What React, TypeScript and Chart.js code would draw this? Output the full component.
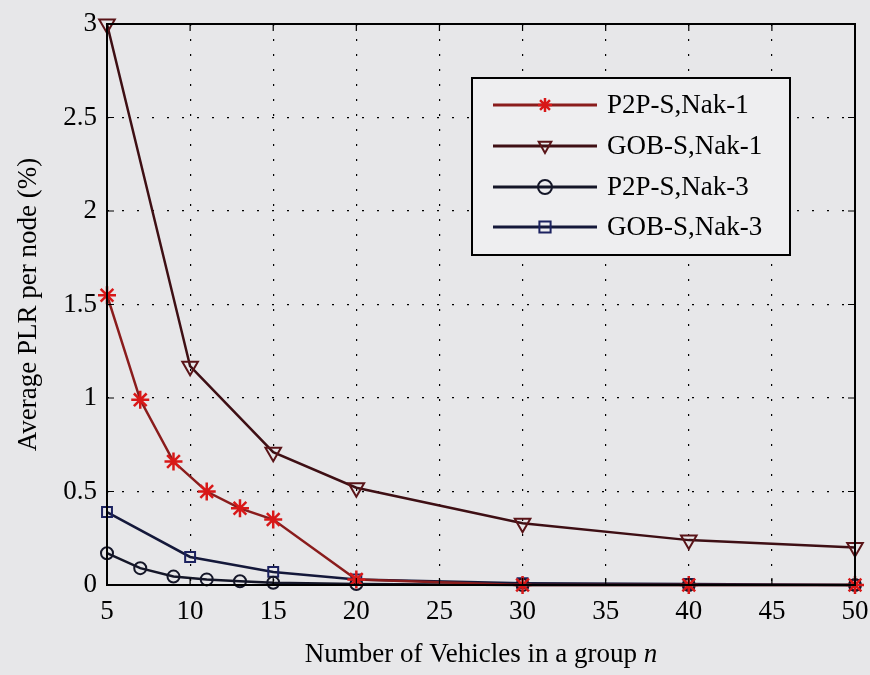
import React, { useEffect, useRef } from "react";
import { Chart, registerables } from "chart.js";
Chart.register(...registerables);

const xP2P = [5, 7, 9, 11, 13, 15, 20, 30, 40, 50];
const xGOB = [5, 10, 15, 20, 30, 40, 50];
const p2pNak1 = [1.55, 0.99, 0.66, 0.5, 0.41, 0.35, 0.03, 0.0, 0.0, 0.0];
const gobNak1 = [3.0, 1.17, 0.71, 0.52, 0.33, 0.24, 0.2];
const p2pNak3 = [0.17, 0.09, 0.045, 0.03, 0.02, 0.012, 0.005, 0.0, 0.0, 0.0];
const gobNak3 = [0.39, 0.15, 0.07, 0.03, 0.01, 0.005, 0.0];
const seriesLabels = ["P2P-S,Nak-1", "GOB-S,Nak-1", "P2P-S,Nak-3", "GOB-S,Nak-3"];
const xTicks = [5, 10, 15, 20, 25, 30, 35, 40, 45, 50];
const yTicks = [0, 0.5, 1, 1.5, 2, 2.5, 3];
const xTitleMain = "Number of Vehicles in a group ";
const xTitleVar = "n";
const yTitle = "Average PLR per node (%)";

const FONT = "'Liberation Serif', 'DejaVu Serif', serif";

const pts = (xs: number[], ys: number[]) => xs.map((x, i) => ({ x, y: ys[i] }));

const bgPlugin = {
  id: "bg",
  beforeDraw(chart: any) {
    const { ctx, width, height } = chart;
    ctx.save();
    ctx.fillStyle = "#e7e7e9";
    ctx.fillRect(0, 0, width, height);
    ctx.restore();
  },
};

function drawMarker(ctx: any, style: string, x: number, y: number, r: number, rot: number) {
  ctx.save();
  ctx.translate(x, y);
  ctx.rotate((rot * Math.PI) / 180);
  ctx.beginPath();
  if (style === "circle") {
    ctx.arc(0, 0, r, 0, Math.PI * 2);
  } else if (style === "rect") {
    ctx.rect(-r * 0.8, -r * 0.8, r * 1.6, r * 1.6);
  } else if (style === "triangle") {
    ctx.moveTo(0, -r);
    ctx.lineTo(r * 0.9, r * 0.6);
    ctx.lineTo(-r * 0.9, r * 0.6);
    ctx.closePath();
  } else if (style === "star") {
    for (let k = 0; k < 4; k++) {
      const a = (k * Math.PI) / 4;
      ctx.moveTo(Math.cos(a) * r, Math.sin(a) * r);
      ctx.lineTo(-Math.cos(a) * r, -Math.sin(a) * r);
    }
  }
  ctx.stroke();
  ctx.restore();
}

const framePlugin = {
  id: "frame",
  afterDraw(chart: any) {
    const { ctx, chartArea } = chart;
    const { left, top, right, bottom } = chartArea;
    ctx.save();
    ctx.strokeStyle = "#000";
    ctx.lineWidth = 2;
    ctx.strokeRect(left, top, right - left, bottom - top);
    // inward ticks
    ctx.lineWidth = 1.2;
    const xs = chart.scales.x;
    const ys = chart.scales.y;
    xTicks.forEach((v) => {
      const px = xs.getPixelForValue(v);
      ctx.beginPath();
      ctx.moveTo(px, bottom);
      ctx.lineTo(px, bottom - 7);
      ctx.moveTo(px, top);
      ctx.lineTo(px, top + 7);
      ctx.stroke();
    });
    yTicks.forEach((v) => {
      const py = ys.getPixelForValue(v);
      ctx.beginPath();
      ctx.moveTo(left, py);
      ctx.lineTo(left + 7, py);
      ctx.moveTo(right, py);
      ctx.lineTo(right - 7, py);
      ctx.stroke();
    });

    // x title with italic variable
    ctx.fillStyle = "#000";
    ctx.textBaseline = "middle";
    ctx.font = `27px ${FONT}`;
    const w1 = ctx.measureText(xTitleMain).width;
    ctx.font = `italic 27px ${FONT}`;
    const w2 = ctx.measureText(xTitleVar).width;
    const cx = (left + right) / 2;
    const sx = cx - (w1 + w2) / 2;
    ctx.textAlign = "left";
    ctx.font = `27px ${FONT}`;
    ctx.fillText(xTitleMain, sx, 655);
    ctx.font = `italic 27px ${FONT}`;
    ctx.fillText(xTitleVar, sx + w1, 655);

    // legend
    const bx = 472, by = 78, bw = 318, bh = 177;
    ctx.fillStyle = "#eeeef0";
    ctx.fillRect(bx, by, bw, bh);
    ctx.strokeStyle = "#000";
    ctx.lineWidth = 2;
    ctx.strokeRect(bx, by, bw, bh);
    const rows = [105, 146, 187, 227];
    chart.data.datasets.forEach((ds: any, i: number) => {
      const y = rows[i];
      ctx.strokeStyle = ds.borderColor;
      ctx.lineWidth = 3;
      ctx.beginPath();
      ctx.moveTo(493, y);
      ctx.lineTo(597, y);
      ctx.stroke();
      ctx.lineWidth = ds.pointBorderWidth;
      ctx.strokeStyle = ds.pointBorderColor;
      drawMarker(ctx, ds.pointStyle, 545, y, 7, ds.pointRotation || 0);
      ctx.fillStyle = "#000";
      ctx.font = `27px ${FONT}`;
      ctx.textBaseline = "middle";
      ctx.textAlign = "left";
      ctx.fillText(ds.label, 607, y + 1);
    });
    ctx.restore();
  },
};

export default function App() {
  const ref = useRef<HTMLCanvasElement>(null);
  useEffect(() => {
    document.body.style.margin = "0";
    const chart = new Chart(ref.current!, {
      type: "line",
      data: {
        datasets: [
          {
            label: seriesLabels[0],
            data: pts(xP2P, p2pNak1),
            borderColor: "#8a1c1c",
            borderWidth: 2.5,
            pointStyle: "star",
            pointRadius: 9,
            pointBorderColor: "#d81818",
            pointBackgroundColor: "rgba(0,0,0,0)",
            pointBorderWidth: 2.5,
            clip: false,
          },
          {
            label: seriesLabels[1],
            data: pts(xGOB, gobNak1),
            borderColor: "#3e0f14",
            borderWidth: 2.5,
            pointStyle: "triangle",
            pointRotation: 180,
            pointRadius: 9,
            pointBorderColor: "#5a1418",
            pointBackgroundColor: "rgba(0,0,0,0)",
            pointBorderWidth: 2,
            clip: false,
          },
          {
            label: seriesLabels[2],
            data: pts(xP2P, p2pNak3),
            borderColor: "#141628",
            borderWidth: 2.5,
            pointStyle: "circle",
            pointRadius: 6,
            pointBorderColor: "#141628",
            pointBackgroundColor: "rgba(0,0,0,0)",
            pointBorderWidth: 2,
            clip: false,
          },
          {
            label: seriesLabels[3],
            data: pts(xGOB, gobNak3),
            borderColor: "#14183a",
            borderWidth: 2.5,
            pointStyle: "rect",
            pointRadius: 7,
            pointBorderColor: "#1c2260",
            pointBackgroundColor: "rgba(0,0,0,0)",
            pointBorderWidth: 2,
            clip: false,
          },
        ] as any,
      },
      options: {
        animation: false,
        responsive: false,
        layout: { padding: { left: 0, right: 15, top: 24, bottom: 0 } },
        plugins: { legend: { display: false }, tooltip: { enabled: false } },
        scales: {
          x: {
            type: "linear",
            min: 5,
            max: 50,
            afterBuildTicks: (s: any) => {
              s.ticks = xTicks.map((v) => ({ value: v }));
            },
            afterFit: (s: any) => {
              s.height = 90;
              s.paddingLeft = 0;
              s.paddingRight = 0;
            },
            ticks: {
              color: "#000",
              font: { family: FONT, size: 27 },
              padding: 11,
              callback: (v: any) => String(v),
            },
            grid: { color: "#000", lineWidth: 1.2, drawTicks: false },
            border: { display: false, dash: [2, 13] },
          },
          y: {
            type: "linear",
            min: 0,
            max: 3,
            afterBuildTicks: (s: any) => {
              s.ticks = yTicks.map((v) => ({ value: v }));
            },
            afterFit: (s: any) => {
              s.width = 107;
              s.paddingTop = 0;
              s.paddingBottom = 0;
            },
            ticks: {
              color: "#000",
              font: { family: FONT, size: 27 },
              padding: 10,
              callback: (v: any) => String(v),
            },
            grid: { color: "#000", lineWidth: 1.2, drawTicks: false },
            border: { display: false, dash: [2, 13] },
            title: {
              display: true,
              text: yTitle,
              color: "#000",
              font: { family: FONT, size: 27 },
              padding: { top: 13, bottom: 0 },
            },
          },
        },
      },
      plugins: [bgPlugin, framePlugin],
    } as any);
    return () => chart.destroy();
  }, []);
  return <canvas ref={ref} width={870} height={675} style={{ display: "block" }} />;
}
